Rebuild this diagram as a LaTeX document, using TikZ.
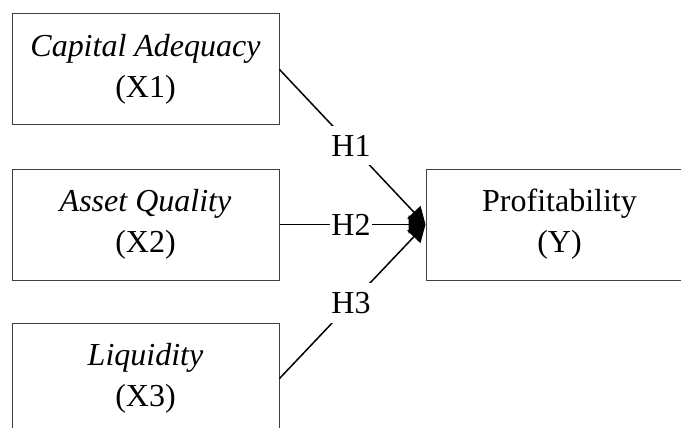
\documentclass[tikz,border=0pt]{standalone}
\usepackage{fontspec}
\setmainfont{Liberation Serif}
\usetikzlibrary{arrows.meta,positioning}

\begin{document}
\begin{tikzpicture}[x=1pt,y=-1pt,
    var/.style={draw=black!75, line width=1pt, minimum width=267pt,
      minimum height=111pt, align=center, inner sep=0pt,
      font=\fontsize{32}{41}\selectfont},
    hyp/.style={fill=white, inner xsep=1pt, inner ysep=9pt,
      font=\fontsize{32}{38}\selectfont},
    link/.style={line width=1.5pt, -{Triangle[length=17pt,width=18pt]}}]
    % Frame
    \useasboundingbox (0,0) rectangle (681,428);
    \clip (0,0) rectangle (681,428);
    % Independent variables
    \node[var] (x1) at (145.5,69.5) {\textit{Capital Adequacy}\\(X1)};
    \node[var, below=43pt of x1] (x2) {\textit{Asset Quality}\\(X2)};
    \node[var, below=42pt of x2] (x3) {\textit{Liquidity}\\(X3)};
    % Dependent variable
    \node[var, right=146pt of x2] (y) {Profitability\\(Y)};
    % Hypotheses
    \draw[link] (x1.east) -- node[hyp, pos=0.49]{H1} (y.west);
    \draw[link] (x2.east) -- node[hyp, pos=0.49]{H2} (y.west);
    \draw[link] (x3.east) -- node[hyp, pos=0.49]{H3} (y.west);
\end{tikzpicture}
\end{document}
